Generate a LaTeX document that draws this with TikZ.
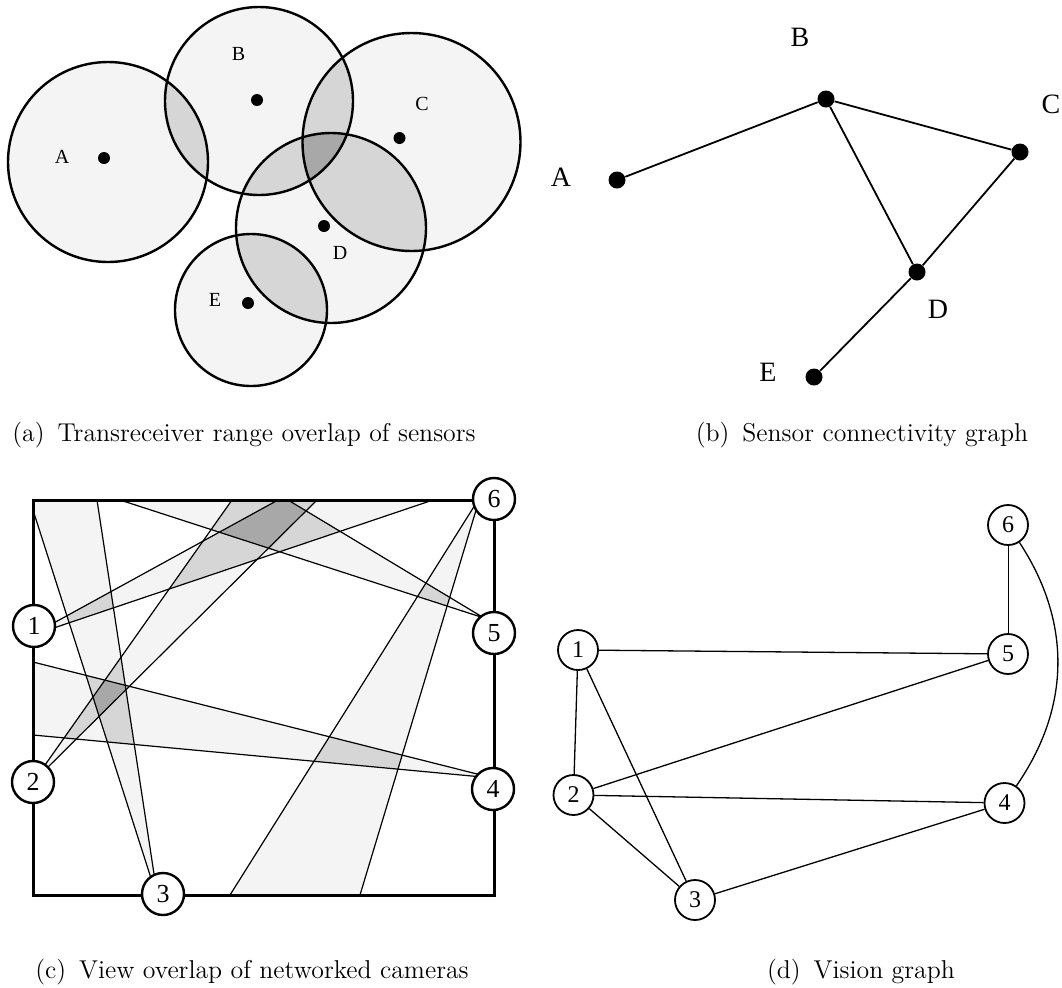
\documentclass[tikz,border=0pt]{standalone}
\usepackage{fontspec}
\newfontfamily\timesfont{Liberation Serif}
\usetikzlibrary{positioning}

\definecolor{rangefill}{gray}{0.955}
\definecolor{pairfill}{gray}{0.84}
\definecolor{triplefill}{gray}{0.66}

% sensor ranges, panel (a)
\def\rangeA{(108,162) circle [radius=100]}
\def\rangeB{(259,101) circle [radius=94]}
\def\rangeC{(411.5,142) circle [radius=109]}
\def\rangeD{(331,228) circle [radius=95]}
\def\rangeE{(251,310) circle [radius=76]}

% camera views, panel (c)
\def\viewA{(30,636) -- (278,500) -- (433,500) -- cycle}
\def\viewB{(33,782) -- (232,500) -- (317,500) -- cycle}
\def\viewC{(158,900) -- (33,510) -- (33,500) -- (97,500) -- cycle}
\def\viewD{(493,778) -- (33,662) -- (33,735) -- cycle}
\def\viewE{(484,618) -- (120,500) -- (288,500) -- cycle}
\def\viewF{(480,497) -- (230,895) -- (360,895) -- cycle}

\begin{document}
\begin{tikzpicture}[%
		x=0.5pt, y=-0.5pt,
		sensor/.style={
			circle,
			fill=black,
			inner sep=0pt,
			minimum size=6pt
		},
		mote/.style={
			circle,
			fill=black,
			inner sep=0pt,
			minimum size=8.5pt
		},
		rangeline/.style={
			line width=1.2pt
		},
		smallname/.style={
			font=\timesfont\fontsize{10}{12}\selectfont,
			inner sep=0pt
		},
		bigname/.style={
			font=\timesfont\fontsize{14}{16}\selectfont,
			inner sep=0pt
		},
		link/.style={
			line width=0.9pt
		},
		camera/.style={
			circle,
			draw,
			line width=1.2pt,
			fill=white,
			minimum size=21pt,
			inner sep=0pt,
			font=\timesfont\fontsize{13}{15}\selectfont
		},
		viewline/.style={
			line width=0.6pt
		},
		vnode/.style={
			circle,
			draw,
			line width=0.9pt,
			fill=white,
			minimum size=20pt,
			inner sep=0pt,
			font=\timesfont\fontsize{12}{14}\selectfont
		},
		vedge/.style={
			line width=0.65pt
		},
		caption/.style={
			font=\fontsize{12.9}{15}\selectfont,
			inner sep=0pt
		}]

		\useasboundingbox (0,0) rectangle (1062,987);

		% PANEL A
		
		\fill[rangefill] \rangeA;
		\fill[rangefill] \rangeB;
		\fill[rangefill] \rangeC;
		\fill[rangefill] \rangeD;
		\fill[rangefill] \rangeE;
		\begin{scope} \clip \rangeA; \fill[pairfill] \rangeB; \end{scope}
		\begin{scope} \clip \rangeB; \fill[pairfill] \rangeC; \end{scope}
		\begin{scope} \clip \rangeB; \fill[pairfill] \rangeD; \end{scope}
		\begin{scope} \clip \rangeC; \fill[pairfill] \rangeD; \end{scope}
		\begin{scope} \clip \rangeD; \fill[pairfill] \rangeE; \end{scope}
		\begin{scope} \clip \rangeB; \clip \rangeC; \fill[triplefill] \rangeD; \end{scope}
		\draw[rangeline] \rangeA;
		\draw[rangeline] \rangeB;
		\draw[rangeline] \rangeC;
		\draw[rangeline] \rangeD;
		\draw[rangeline] \rangeE;

		\node (sA) [sensor] at (104,158) {};
		\node (sB) [sensor] at (257,100) {};
		\node (sC) [sensor] at (399.5,138) {};
		\node (sD) [sensor] at (324,226) {};
		\node (sE) [sensor] at (248,303) {};
		\node (sA-name) [smallname] at (62,157) {A};
		\node (sB-name) [smallname] at (238.5,54) {B};
		\node (sC-name) [smallname] at (422,104) {C};
		\node (sD-name) [smallname] at (340,253) {D};
		\node (sE-name) [smallname] at (215,300) {E};

		% PANEL B

		\node (gA) [mote] at (617,180) {};
		\node (gB) [mote] at (826,99) {};
		\node (gC) [mote] at (1020,152) {};
		\node (gD) [mote] at (917,272) {};
		\node (gE) [mote] at (814,377) {};
		\node (gA-name) [bigname] at (561,177) {A};
		\node (gB-name) [bigname] at (800,37) {B};
		\node (gC-name) [bigname] at (1051,104) {C};
		\node (gD-name) [bigname] at (938,309) {D};
		\node (gE-name) [bigname] at (768,372) {E};

		\draw[link] (gA) -- (gB);
		\draw[link] (gB) -- (gC);
		\draw[link] (gB) -- (gD);
		\draw[link] (gC) -- (gD);
		\draw[link] (gD) -- (gE);

		% PANEL C

		\fill[rangefill] \viewA;
		\fill[rangefill] \viewB;
		\fill[rangefill] \viewC;
		\fill[rangefill] \viewD;
		\fill[rangefill] \viewE;
		\fill[rangefill] \viewF;
		\begin{scope} \clip \viewA; \fill[pairfill] \viewB; \end{scope}
		\begin{scope} \clip \viewA; \fill[pairfill] \viewC; \end{scope}
		\begin{scope} \clip \viewA; \fill[pairfill] \viewE; \end{scope}
		\begin{scope} \clip \viewB; \fill[pairfill] \viewC; \end{scope}
		\begin{scope} \clip \viewB; \fill[pairfill] \viewD; \end{scope}
		\begin{scope} \clip \viewB; \fill[pairfill] \viewE; \end{scope}
		\begin{scope} \clip \viewC; \fill[pairfill] \viewD; \end{scope}
		\begin{scope} \clip \viewD; \fill[pairfill] \viewF; \end{scope}
		\begin{scope} \clip \viewE; \fill[pairfill] \viewF; \end{scope}
		\begin{scope} \clip \viewA; \clip \viewB; \fill[triplefill] \viewE; \end{scope}
		\begin{scope} \clip \viewB; \clip \viewC; \fill[triplefill] \viewD; \end{scope}

		\draw[viewline] (30,636) -- (278,500) (30,636) -- (433,500);
		\draw[viewline] (33,782) -- (232,500) (33,782) -- (317,500);
		\draw[viewline] (158,900) -- (33,510) (158,900) -- (97,500);
		\draw[viewline] (493,778) -- (33,662) (493,778) -- (33,735);
		\draw[viewline] (484,618) -- (120,500) (484,618) -- (288,500);
		\draw[viewline] (480,497) -- (230,895) (480,497) -- (360,895);

		\draw[line width=1.5pt] (33,500) rectangle (494,895);

		\node (cam1) [camera] at (34,626) {1};
		\node (cam2) [camera] at (33,782) {2};
		\node (cam3) [camera] at (163,894) {3};
		\node (cam4) [camera] at (493,789) {4};
		\node (cam5) [camera] at (494,633) {5};
		\node (cam6) [camera] at (494,499) {6};

		% PANEL D

		\node (v1) [vnode] at (578,650) {1};
		\node (v2) [vnode] at (573.5,795) {2};
		\node (v3) [vnode] at (695,900) {3};
		\node (v4) [vnode] at (1004.5,803) {4};
		\node (v5) [vnode] at (1008,654) {5};
		\node (v6) [vnode] at (1008,525) {6};

		\draw[vedge] (v1) -- (v5);
		\draw[vedge] (v1) -- (v2);
		\draw[vedge] (v1) -- (v3);
		\draw[vedge] (v2) -- (v5);
		\draw[vedge] (v2) -- (v4);
		\draw[vedge] (v2) -- (v3);
		\draw[vedge] (v3) -- (v4);
		\draw[line width=0.45pt] (v5) -- (v6);
		\draw[vedge] (v6) to[bend left=34] (v4);

		% CAPTIONS

		\node (cap-a) [caption] at (244,435) {(a)\enspace Transreceiver range overlap of sensors};
		\node (cap-b) [caption] at (862,435) {(b)\enspace Sensor connectivity graph};
		\node (cap-c) [caption] at (252,972) {(c)\enspace View overlap of networked cameras};
		\node (cap-d) [caption] at (861,972) {(d)\enspace Vision graph};
\end{tikzpicture}
\end{document}
